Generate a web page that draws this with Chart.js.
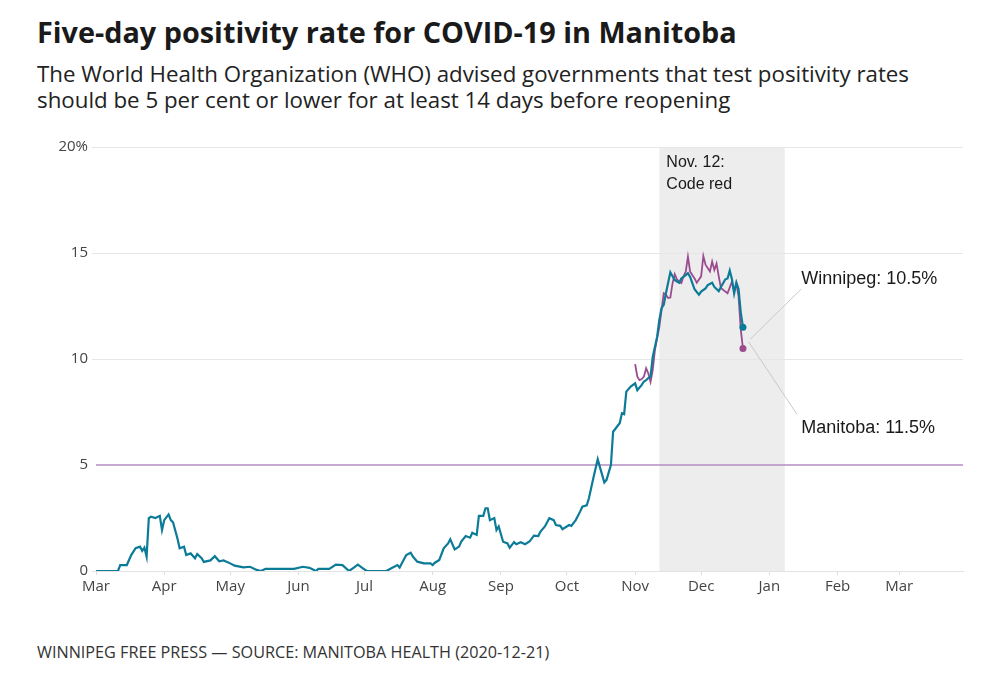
<html>
  <head>
    <meta charset="utf-8">
    <title>Five-day positivity rate for COVID-19 in Manitoba</title>
    <script src="https://cdn.jsdelivr.net/npm/chart.js@4.4.1/dist/chart.umd.min.js"></script>
    <style>
      html, body { margin: 0; padding: 0; background: #fff; }
      body { width: 1000px; height: 692px; position: relative; overflow: hidden; font-family: "Open Sans", sans-serif; color: #1a1a1a; }
      #title { position: absolute; left: 37px; top: 12px; font-size: 28.8px; font-weight: 700; white-space: nowrap; }
      #subtitle { position: absolute; left: 37px; top: 61px; font-size: 22.3px; line-height: 26px; color: #222; white-space: nowrap; }
      #footer { position: absolute; left: 37px; top: 641px; font-size: 16.2px; color: #333; white-space: nowrap; }
      #wrap { position: absolute; left: 0; top: 0; width: 1000px; height: 692px; }
    </style>
  </head>
  <body>
    <div id="title">Five-day positivity rate for COVID-19 in Manitoba</div>
    <div id="subtitle">The World Health Organization (WHO) advised governments that test positivity rates<br>should be 5 per cent or lower for at least 14 days before reopening</div>
    <div id="footer">WINNIPEG FREE PRESS — SOURCE: MANITOBA HEALTH (2020-12-21)</div>
    <div id="wrap"><canvas id="myChart"></canvas></div>

    <script type="text/javascript">
      // days counted from Mar 1, 2020
      const monthStarts = [0, 31, 61, 92, 122, 153, 184, 214, 245, 275, 306, 337, 365];
      const monthLabels = ['Mar', 'Apr', 'May', 'Jun', 'Jul', 'Aug', 'Sep', 'Oct', 'Nov', 'Dec', 'Jan', 'Feb', 'Mar'];
      const yTicks = [0, 5, 10, 15, 20];

      // Manitoba five-day positivity (%)
      const mbDays = [0, 10, 11, 14, 16, 18, 20, 21, 22, 23, 24, 25, 27, 29, 30, 31, 33, 34, 35, 37, 38,
        40, 41, 43, 45, 46, 48, 49, 52, 54, 56, 58, 61, 63, 67, 70, 73, 75, 77, 90, 94, 97, 100, 101,
        106, 109, 112, 115, 117, 119, 121, 123, 132, 134, 137, 138, 139, 141, 143, 144, 146, 149, 152,
        153, 154, 156, 158, 160, 161, 163, 165, 166, 168, 170, 171, 173, 174, 176, 177, 178, 179, 181,
        182, 183, 185, 187, 188, 190, 191, 193, 195, 197, 199, 201, 202, 204, 206, 208, 209, 211, 212,
        215, 216, 218, 220, 221, 223, 224, 226, 228, 229, 231, 232, 234, 235, 237, 238, 239, 240, 241,
        243, 245, 246, 248, 249, 250, 251, 252, 253, 255, 256, 257, 258, 259, 261, 262, 263, 264, 265,
        266, 268, 269, 270, 271, 272, 274, 275, 277, 278, 280, 281, 283, 284, 286, 287, 288, 289, 290,
        291, 292, 293, 294];
      const mbRate = [0, 0, 0.28, 0.28, 0.75, 1.08, 1.15, 0.95, 1.1, 0.68, 2.49, 2.56, 2.5, 2.6, 1.93, 2.4, 2.67, 2.4, 2.3, 1.54, 1.07,
        1.15, 0.75, 0.83, 0.6, 0.8, 0.6, 0.43, 0.5, 0.7, 0.46, 0.5, 0.36, 0.25, 0.17, 0.2, 0.05, 0, 0.1, 0.1, 0.2, 0.15, 0, 0.1,
        0.1, 0.3, 0.28, 0, 0.15, 0.3, 0.15, 0, 0, 0.12, 0.28, 0.16, 0.36, 0.75, 0.86, 0.68, 0.44, 0.36, 0.36,
        0.28, 0.39, 0.52, 1.07, 1.3, 1.5, 1.02, 1.15, 1.39, 1.65, 1.57, 1.8, 1.7, 2.6, 2.6, 2.96, 2.96, 2.4, 2.5,
        1.93, 2.1, 1.38, 1.3, 1.1, 1.36, 1.26, 1.36, 1.26, 1.39, 1.67, 1.65, 1.86, 2.1, 2.49, 2.4, 2.17, 2.13, 1.97,
        2.17, 2.13, 2.4, 2.8, 3.03, 3.1, 3.43, 4.37, 5.27, 4.9, 4.18, 4.3, 5.0, 6.57, 6.84, 6.97, 7.44, 7.4, 8.46,
        8.7, 8.85, 8.53, 8.78, 8.94, 9.0, 9.1, 9.17, 10.1, 11.05, 11.84, 12.4, 12.56, 13.1, 14.09, 13.9, 13.73, 13.65, 13.6,
        13.8, 13.96, 14.05, 13.87, 13.58, 13.29, 13.03, 13.18, 13.33, 13.49, 13.6, 13.4, 13.2, 13.4, 13.76, 13.8, 14.17, 13.76, 13.1,
        13.6, 13.3, 12.2, 11.5];

      // Winnipeg five-day positivity (%)
      const wpgDays = [245, 246, 247, 248, 249, 250, 251, 252, 253, 254, 256, 258, 259, 260, 261, 262, 263, 264, 265,
        266, 267, 268, 269, 270, 272, 273, 275, 276, 277, 279, 280, 281, 282, 283, 284, 286, 287, 289, 290,
        291, 292, 293, 294];
      const wpgRate = [9.76, 9.17, 9.0, 9.05, 9.17, 9.56, 9.32, 8.92, 9.48, 10.42, 11.52, 13.1, 13.03, 12.88, 12.9, 13.57, 14.0, 13.76, 13.65,
        13.58, 13.9, 14.12, 14.83, 14.12, 13.8, 13.6, 13.9, 14.86, 14.45, 14.13, 14.6, 14.2, 14.5, 13.9, 13.35, 13.18, 13.1, 13.65, 13.18,
        13.57, 12.95, 11.4, 10.5];

      const whoThreshold = 5;
      const xMax = 394;
      const codeRedStart = 256; // Nov. 12
      const codeRedEnd = 313;

      const toPoints = (days, vals) => days.map((d, i) => ({ x: d, y: vals[i] }));
      const lastDot = (ctx) => ctx.dataIndex === ctx.dataset.data.length - 1 ? 3.5 : 0;

      const blue = '#0c7b98';
      const purple = '#9a4c8f';

      const extras = {
        id: 'extras',
        beforeDraw(chart) {
          const { ctx, chartArea, scales } = chart;
          const x0 = scales.x.getPixelForValue(codeRedStart);
          const x1 = scales.x.getPixelForValue(codeRedEnd);
          ctx.save();
          ctx.fillStyle = '#ededed';
          ctx.fillRect(x0, chartArea.top, x1 - x0, chartArea.bottom - chartArea.top);
          ctx.restore();
        },
        afterDatasetsDraw(chart) {
          const { ctx, scales } = chart;
          const px = v => scales.x.getPixelForValue(v);
          const py = v => scales.y.getPixelForValue(v);
          ctx.save();
          ctx.strokeStyle = '#c9c9c9';
          ctx.lineWidth = 1;
          ctx.beginPath();
          ctx.moveTo(px(297.3), py(10.93)); ctx.lineTo(px(320.5), py(13.3));
          ctx.moveTo(px(296.5), py(10.82)); ctx.lineTo(px(318.5), py(7.4));
          ctx.stroke();
          ctx.fillStyle = '#1a1a1a';
          ctx.font = '16px "Liberation Sans", Arial, sans-serif';
          ctx.textBaseline = 'alphabetic';
          ctx.fillText('Nov. 12:', px(codeRedStart) + 7, py(19.07));
          ctx.fillText('Code red', px(codeRedStart) + 7, py(18.03));
          ctx.font = '18px "Liberation Sans", Arial, sans-serif';
          ctx.fillText('Winnipeg: 10.5%', px(320.5), py(13.54));
          ctx.fillText('Manitoba: 11.5%', px(320.5), py(6.51));
          ctx.restore();
        }
      };

      const ctx = document.getElementById('myChart').getContext('2d');
      const chart = new Chart(ctx, {
        type: 'line',
        data: {
          datasets: [{
            label: 'WHO threshold',
            data: [{ x: 0, y: whoThreshold }, { x: xMax, y: whoThreshold }],
            borderColor: '#b48bc0',
            borderWidth: 1.5,
            pointRadius: 0,
            order: 3
          }, {
            label: 'Winnipeg',
            data: toPoints(wpgDays, wpgRate),
            borderColor: purple,
            backgroundColor: purple,
            borderWidth: 1.8,
            pointRadius: lastDot,
            pointBorderWidth: 0,
            order: 2
          }, {
            label: 'Manitoba',
            data: toPoints(mbDays, mbRate),
            borderColor: blue,
            backgroundColor: blue,
            borderWidth: 2.2,
            pointRadius: lastDot,
            pointBorderWidth: 0,
            order: 1
          }]
        },
        options: {
          responsive: true,
          maintainAspectRatio: false,
          animation: false,
          layout: { padding: { top: 147, right: 37, bottom: 91, left: 0 } },
          plugins: { legend: { display: false }, tooltip: { enabled: false } },
          scales: {
            x: {
              type: 'linear',
              min: 0,
              max: xMax,
              afterBuildTicks: s => { s.ticks = monthStarts.map(v => ({ value: v })); },
              afterFit: s => { s.height = 30; },
              ticks: {
                autoSkip: false,
                maxRotation: 0,
                padding: 3,
                color: '#444',
                font: { family: 'Open Sans', size: 15 },
                callback: (v) => monthLabels[monthStarts.indexOf(v)]
              },
              grid: { drawOnChartArea: false, drawTicks: true, tickLength: 4, color: '#dddddd' },
              border: { display: true, color: '#e3e3e3' }
            },
            y: {
              min: 0,
              max: 20,
              afterBuildTicks: s => { s.ticks = yTicks.map(v => ({ value: v })); },
              afterFit: s => { s.width = 96; },
              ticks: {
                padding: 4,
                color: '#444',
                font: { family: 'Open Sans', size: 15 },
                callback: v => v === 20 ? '20%' : String(v)
              },
              grid: {
                tickLength: 4,
                color: c => c.tick && c.tick.value === whoThreshold ? 'rgba(0,0,0,0)' : '#e6e6e6'
              },
              border: { display: false }
            }
          }
        },
        plugins: [extras]
      });
    </script>
  </body>
</html>
